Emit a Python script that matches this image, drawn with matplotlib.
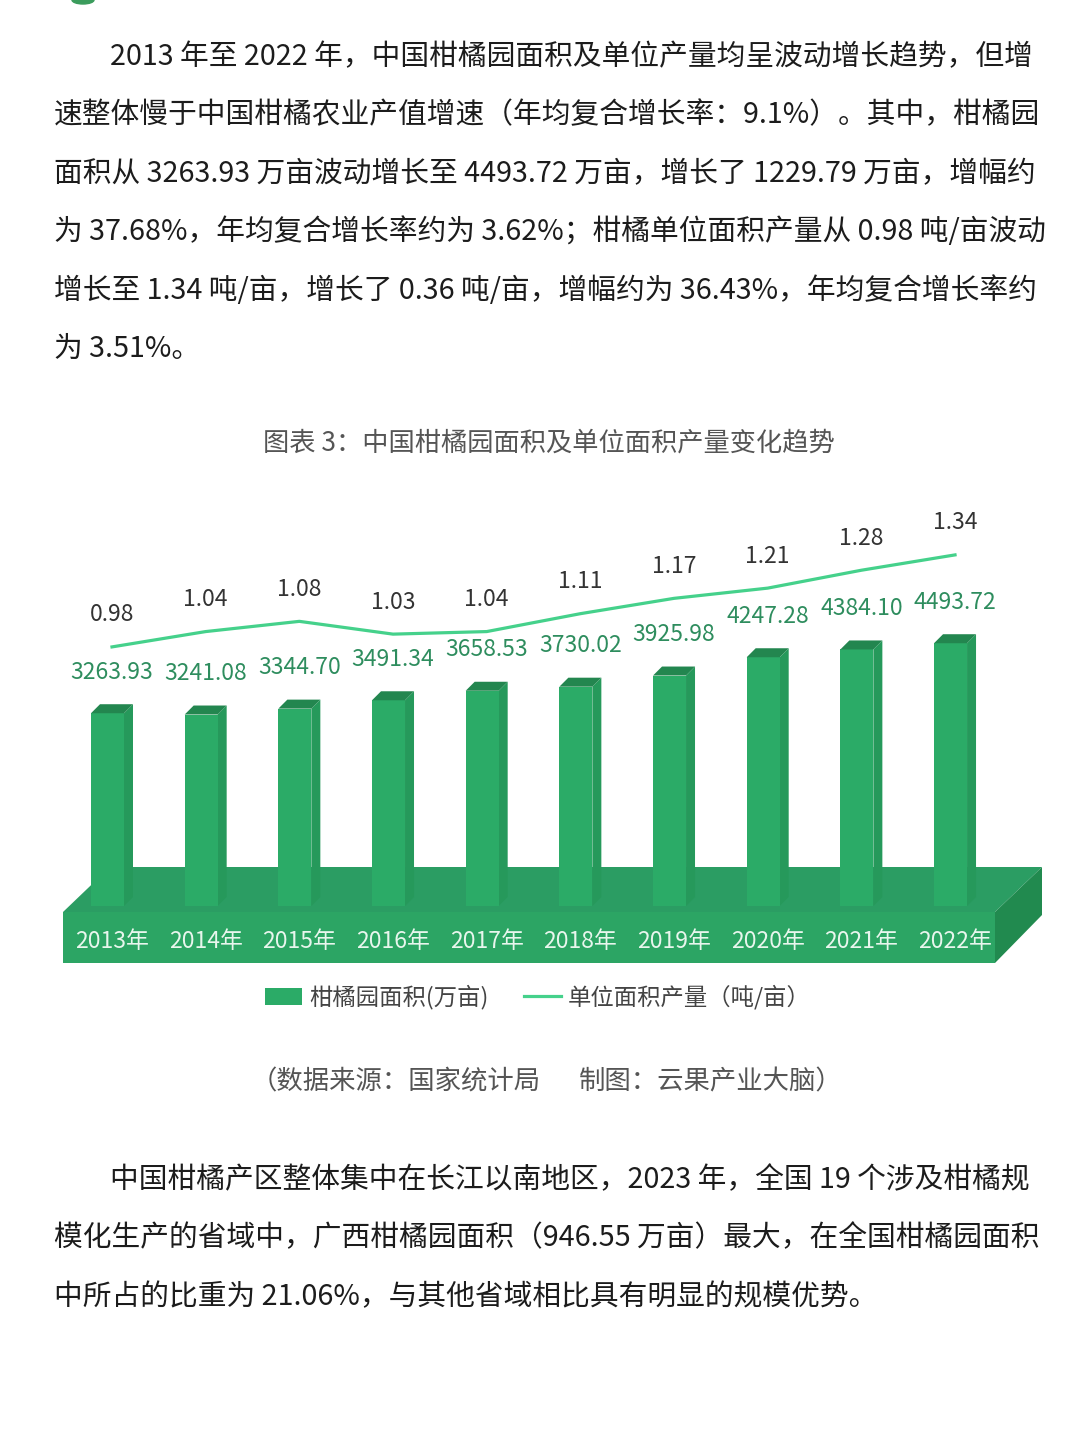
import matplotlib
matplotlib.use('Agg')
import matplotlib.pyplot as plt
from matplotlib.patches import Polygon, Rectangle, Patch, Ellipse
from matplotlib.lines import Line2D

plt.rcParams['font.family'] = ['Noto Sans CJK SC', 'DejaVu Sans']

# data
years = ['2013年', '2014年', '2015年', '2016年', '2017年',
         '2018年', '2019年', '2020年', '2021年', '2022年']
area = [3263.93, 3241.08, 3344.70, 3491.34, 3658.53,
        3730.02, 3925.98, 4247.28, 4384.10, 4493.72]
yield_rate = [0.98, 1.04, 1.08, 1.03, 1.04, 1.11, 1.17, 1.21, 1.28, 1.34]

title = '图表 3：中国柑橘园面积及单位面积产量变化趋势'
legend_labels = ['柑橘园面积(万亩)', '单位面积产量（吨/亩）']
source_left = '（数据来源：国家统计局'
source_right = '制图：云果产业大脑）'

para1 = [
    '2013 年至 2022 年，中国柑橘园面积及单位产量均呈波动增长趋势，但增',
    '速整体慢于中国柑橘农业产值增速（年均复合增长率：9.1%）。其中，柑橘园',
    '面积从 3263.93 万亩波动增长至 4493.72 万亩，增长了 1229.79 万亩，增幅约',
    '为 37.68%，年均复合增长率约为 3.62%；柑橘单位面积产量从 0.98 吨/亩波动',
    '增长至 1.34 吨/亩，增长了 0.36 吨/亩，增幅约为 36.43%，年均复合增长率约',
    '为 3.51%。',
]
para2 = [
    '中国柑橘产区整体集中在长江以南地区，2023 年，全国 19 个涉及柑橘规',
    '模化生产的省域中，广西柑橘园面积（946.55 万亩）最大，在全国柑橘园面积',
    '中所占的比重为 21.06%，与其他省域相比具有明显的规模优势。',
]

W, H = 1080, 1439
fig = plt.figure(figsize=(W / 100, H / 100), dpi=100)
fig.patch.set_facecolor('white')


def fx(x):
    return x / W


def fy(y):
    return 1 - y / H


# small icon cut off at the top
fig.patches.append(Ellipse((fx(83), fy(0)), 22 / W, 8 / H, color='#3b9c5c',
                           transform=fig.transFigure, figure=fig))

# body text
for k, line in enumerate(para1):
    x0 = 110 if k == 0 else 54
    fig.text(fx(x0), fy(57 + k * 58.4), line, fontsize=20.7, color='#1c1c1c',
             ha='left', va='center')
for k, line in enumerate(para2):
    x0 = 110 if k == 0 else 54
    fig.text(fx(x0), fy(1180 + k * 58.5), line, fontsize=20.7, color='#1c1c1c',
             ha='left', va='center')

# chart title and source
fig.text(fx(549), fy(443), title, fontsize=18.9, color='#555555',
         ha='center', va='center')
fig.text(fx(251), fy(1082), source_left, fontsize=19, color='#555555',
         ha='left', va='center')
fig.text(fx(843), fy(1082), source_right, fontsize=19, color='#555555',
         ha='right', va='center')

# chart axes: pixel rows 470..1010
top_px, bot_px = 470, 1010
ax = fig.add_axes([0, fy(bot_px), 1, (bot_px - top_px) / H])
ax.axis('off')
step = 93.67
ax.set_xlim(-112 / step, (W - 112) / step)
s_bar = 0.05692
ax.set_ylim((899 - bot_px) / s_bar, (899 - top_px) / s_bar)
ax2 = ax.twinx()
ax2.axis('off')
s_line = 255.6
ax2.set_ylim((897.4 - bot_px) / s_line, (897.4 - top_px) / s_line)

px_x = 1 / step
px_y = 1 / s_bar

c_front = '#2bab67'
c_top = '#23864f'
c_side = '#26995b'
c_plat_front = '#2ca564'
c_plat_top = '#2b9d63'
c_plat_side = '#218a4f'

# platform
pl, pr = (63 - 112) * px_x, (995 - 112) * px_x
p_front_top = (899 - 912) * px_y
p_bottom = (899 - 963) * px_y
p_back = (899 - 867) * px_y
depth = 47 * px_x
ax.add_patch(Polygon([(pl, p_front_top), (pr, p_front_top),
                      (pr + depth, p_back), (pl + depth, p_back)],
                     closed=True, color=c_plat_top, zorder=1, lw=0))

# bars (front face) with 3D top and side faces
xs = list(range(len(years)))
bw = 33 * px_x
b0 = (899 - 906) * px_y
front_centers = [x - 4.5 * px_x for x in xs]
ax.bar(front_centers, [v - b0 for v in area], width=bw, bottom=b0,
       color=c_front, zorder=3, linewidth=0)
d = 9 * px_x
dy = 9 * px_y
for x, v in zip(xs, area):
    left = x - 21 * px_x
    right = left + bw
    ax.add_patch(Polygon([(left, v), (right, v), (right + d, v + dy),
                          (left + d, v + dy)], closed=True, color=c_top,
                         zorder=3, lw=0))
    ax.add_patch(Polygon([(right, v), (right + d, v + dy), (right + d, b0 + dy),
                          (right, b0)], closed=True, color=c_side,
                         zorder=2.9, lw=0))
    ax.text(x, v + 41 * px_y, f'{v:.2f}', fontsize=16.5, color='#2e8d5e',
            ha='center', va='center', zorder=5)

# platform front and right side
ax.add_patch(Rectangle((pl, p_bottom), pr - pl, p_front_top - p_bottom,
                       color=c_plat_front, zorder=4, lw=0))
ax.add_patch(Polygon([(pr, p_front_top), (pr + depth, p_back),
                      (pr + depth, p_back - 48 * px_y), (pr, p_bottom)],
                     closed=True, color=c_plat_side, zorder=4, lw=0))
for x, lab in zip(xs, years):
    ax.text(x, (899 - 941) * px_y, lab, fontsize=16.5, color='#e8f6ed',
            ha='center', va='center', zorder=6)

# yield line
line_color = '#45d18b'
ax2.plot(xs, yield_rate, color=line_color, lw=2.3, zorder=5)
for x, r in zip(xs, yield_rate):
    ax2.text(x, r + 32 / s_line, f'{r:.2f}', fontsize=16.5, color='#333333',
             ha='center', va='center')

handles = [Patch(color=c_front, lw=0),
           Line2D([0], [0], color=line_color, lw=2.3)]
fig.legend(handles, legend_labels, loc='center',
           bbox_to_anchor=(fx(538), fy(997)), ncol=2, frameon=False,
           fontsize=16.8, labelcolor='#444444', handlelength=1.6,
           handleheight=0.75, handletextpad=0.3, columnspacing=1.5)

fig.savefig('out.png', dpi=100, facecolor='white')
